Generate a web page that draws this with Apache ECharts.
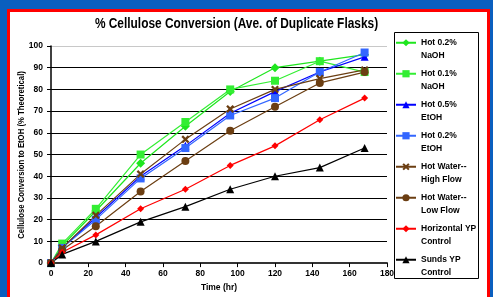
<!DOCTYPE html>
<html>
<head>
<meta charset="utf-8">
<script src="https://cdn.jsdelivr.net/npm/echarts@6/dist/echarts.min.js"></script>
<style>
  html, body { margin: 0; padding: 0; width: 493px; height: 297px; overflow: hidden; background: #0a5fbf; }
  #frame { position: absolute; left: 7px; top: 9px; width: 483px; height: 300px; box-sizing: border-box; background: #fff; border: 3px solid #ff0000; }
  #chart { position: absolute; left: 0; top: 0; width: 493px; height: 297px; }
</style>
</head>
<body>
<div id="frame"></div>
<div id="chart"></div>
<script>
const FONT = "'Liberation Sans', Arial, sans-serif";

const titleText = '% Cellulose Conversion (Ave. of Duplicate Flasks)';
const xAxisName = 'Time (hr)';
const yAxisName = 'Cellulose Conversion to EtOH (% Theoretical)';

const times = [0, 6, 24, 48, 72, 96, 120, 144, 168];

const seriesNames = [
  'Hot 0.2%\nNaOH',
  'Hot 0.1%\nNaOH',
  'Hot 0.5%\nEtOH',
  'Hot 0.2%\nEtOH',
  'Hot Water--\nHigh Flow',
  'Hot Water--\nLow Flow',
  'Horizontal YP\nControl',
  'Sunds YP\nControl'
];

const hot02NaOH    = [0, 8, 24, 46, 63, 79, 90, 93, 96];
const hot01NaOH    = [0, 9, 25, 50, 65, 80, 84, 93, 88];
const hot05EtOH    = [0, 7, 21, 40, 54, 69, 79, 88, 95];
const hot02EtOH    = [0, 7, 20, 39, 53, 68, 76, 88, 97];
const hotWaterHigh = [0, 7, 22, 41, 57, 71, 80, 85, 89];
const hotWaterLow  = [0, 6, 17, 33, 47, 61, 72, 83, 88];
const horizontalYP = [0, 5, 13, 25, 34, 45, 54, 66, 76];
const sundsYP      = [0, 4, 10, 19, 26, 34, 40, 44, 53];

const seriesValues = [hot02NaOH, hot01NaOH, hot05EtOH, hot02EtOH, hotWaterHigh, hotWaterLow, horizontalYP, sundsYP];

const xTicks = [0, 20, 40, 60, 80, 100, 120, 140, 160, 180];
const yTicks = [0, 10, 20, 30, 40, 50, 60, 70, 80, 90, 100];

const colors  = ['#1ee61e', '#33ee33', '#0000ff', '#3366ff', '#6b3e12', '#6b3e12', '#ff0000', '#000000'];
const X_PATH = 'path://M2,0 L5,3 L8,0 L10,2 L7,5 L10,8 L8,10 L5,7 L2,10 L0,8 L3,5 L0,2 Z';
const symbols = ['diamond', 'rect', 'triangle', 'rect', X_PATH, 'circle', 'diamond', 'triangle'];
const symSizes = [9, 8, 8, 8, 8, 8, 7, 8];

const chart = echarts.init(document.getElementById('chart'), null, { renderer: 'canvas' });

const series = seriesNames.map((name, i) => ({
  name: name,
  type: 'line',
  data: times.map((t, j) => [t, seriesValues[i][j]]),
  symbol: symbols[i],
  symbolSize: symSizes[i],
  showSymbol: true,
  clip: false,
  lineStyle: { color: colors[i], width: 1.2 },
  itemStyle: { color: colors[i], borderWidth: 0 },
  emphasis: { disabled: true },
  animation: false
}));

const splitColors = yTicks.map((v, i) => (i === yTicks.length - 1 ? '#c8c8c8' : '#000000'));

chart.setOption({
  animation: false,
  color: colors,
  grid: { left: 51, right: 106, top: 46, bottom: 29 },
  legend: {
    orient: 'vertical',
    left: 395,
    top: 24,
    padding: 0,
    itemGap: -6.5,
    itemWidth: 20,
    itemHeight: 9,
    selectedMode: false,
    formatter: function (name) { return ' \n' + name; },
    textStyle: { fontFamily: FONT, fontSize: 8.5, fontWeight: 'bold', color: '#000', lineHeight: 12.5 },
    data: seriesNames
  },
  xAxis: {
    type: 'value',
    min: xTicks[0],
    max: xTicks[xTicks.length - 1],
    interval: 20,
    name: xAxisName,
    nameLocation: 'middle',
    nameGap: 19,
    nameTextStyle: { fontFamily: FONT, fontSize: 8.5, fontWeight: 'bold', color: '#000' },
    axisLine: { show: true, lineStyle: { color: '#333', width: 2 } },
    axisTick: { show: true, inside: false, length: 4, lineStyle: { color: '#000', width: 1 } },
    axisLabel: { fontFamily: FONT, fontSize: 8.5, fontWeight: 'bold', color: '#000', margin: 6, showMinLabel: true, showMaxLabel: true },
    splitLine: { show: false }
  },
  yAxis: {
    type: 'value',
    min: yTicks[0],
    max: yTicks[yTicks.length - 1],
    interval: 10,
    axisLine: { show: true, lineStyle: { color: '#000', width: 1.5 } },
    axisTick: { show: true, inside: false, length: 4, lineStyle: { color: '#000', width: 1 } },
    axisLabel: { fontFamily: FONT, fontSize: 8.5, fontWeight: 'bold', color: '#000', margin: 8 },
    splitLine: { show: true, lineStyle: { color: splitColors, width: 1 } }
  },
  graphic: [
    {
      type: 'text',
      x: 236.5, y: 24, scaleX: 0.85,
      style: { text: titleText, font: "bold 14px " + FONT, fill: '#000', align: 'center', verticalAlign: 'middle' },
      silent: true
    },
    {
      type: 'text',
      x: 22, y: 155, rotation: Math.PI / 2, scaleX: 0.86,
      style: { text: yAxisName, font: "bold 9px " + FONT, fill: '#000', align: 'center', verticalAlign: 'middle' },
      silent: true
    },
    {
      type: 'rect',
      shape: { x: 394.5, y: 32.5, width: 84, height: 246 },
      style: { fill: 'none', stroke: '#000', lineWidth: 1 },
      silent: true
    }
  ],
  series: series
});
</script>
</body>
</html>
